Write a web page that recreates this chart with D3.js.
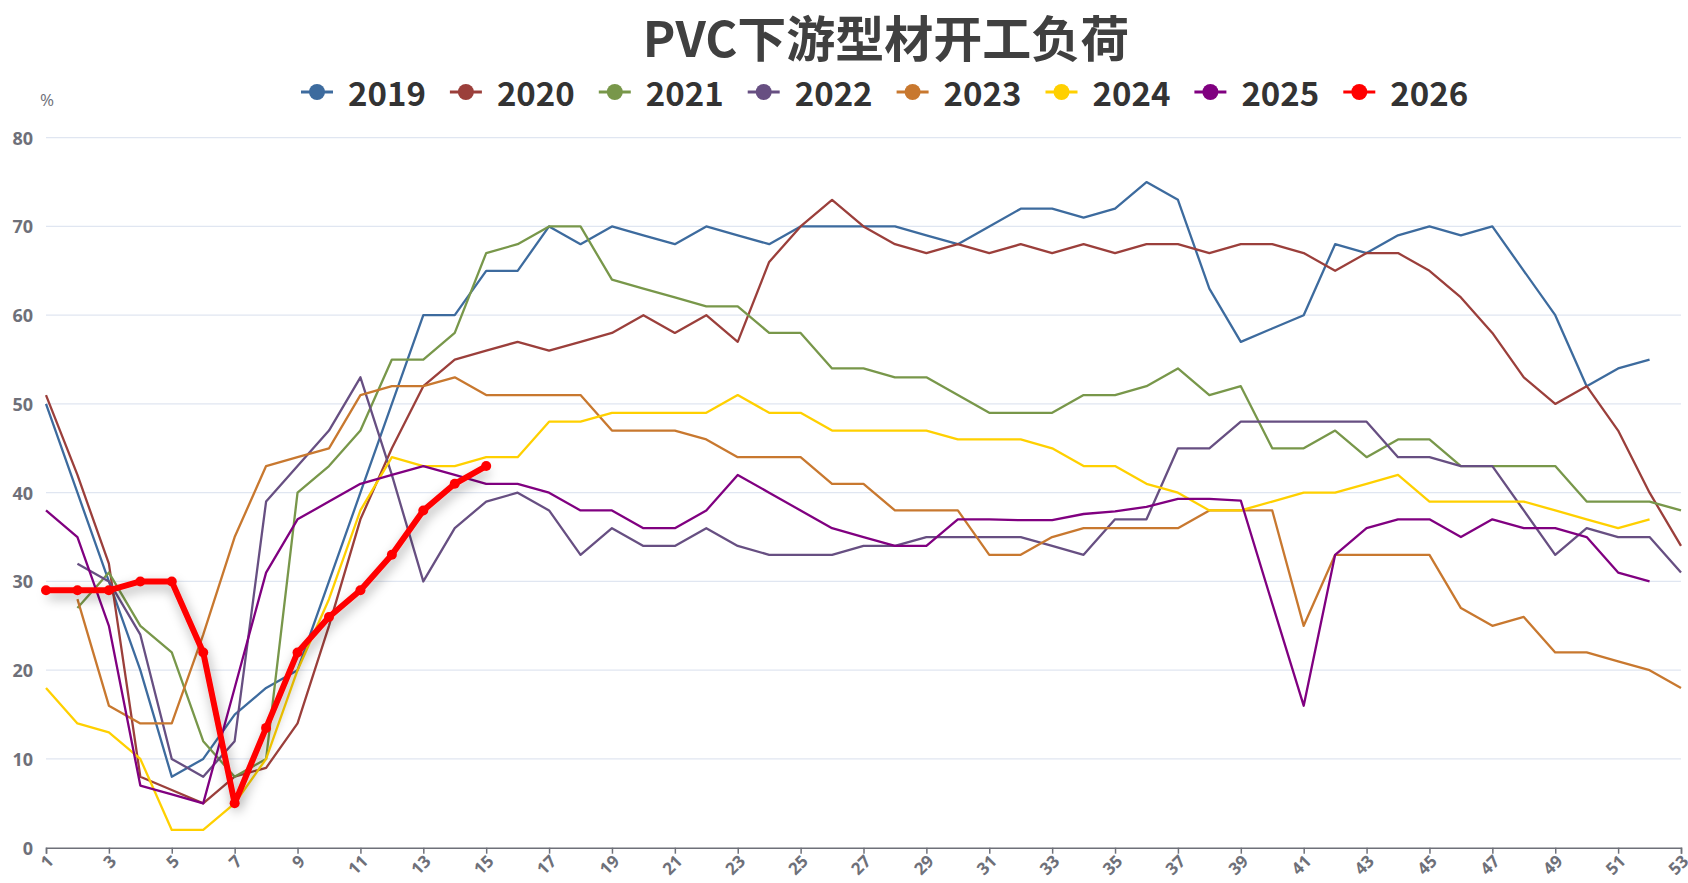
<!DOCTYPE html>
<html>
<head>
<meta charset="utf-8">
<script src="https://cdn.jsdelivr.net/npm/d3@7/dist/d3.min.js"></script>
<style>
  html, body { margin: 0; padding: 0; background: #fff; }
  svg { display: block; }
</style>
</head>
<body>
<div id="chart"></div>
<script>
// weeks on the x axis
const weeks = d3.range(1, 54);
const xTicks = d3.range(1, 54, 2);
const yTicks = [0, 10, 20, 30, 40, 50, 60, 70, 80];

const years = ["2019", "2020", "2021", "2022", "2023", "2024", "2025", "2026"];
const colors = ["#3d6b9e", "#9b3f3b", "#78974a", "#674f82", "#c8782f", "#ffd000", "#800080", "#ff0000"];

// weekly load (%), null = no data
const s2019 = [50, 40, 30, 20, 8, 10, 15, 18, 20, 30, 40, 50, 60, 60, 65, 65, 70, 68, 70, 69, 68, 70, 69, 68, 70, 70, 70, 70, 69, 68, 70, 72, 72, 71, 72, 75, 73, 63, 57, 58.5, 60, 68, 67, 69, 70, 69, 70, 65, 60, 52, 54, 55, null];
const s2020 = [51, 42, 32, 8, 6.5, 5, 8, 9, 14, 25, 37, 45, 52, 55, 56, 57, 56, 57, 58, 60, 58, 60, 57, 66, 70, 73, 70, 68, 67, 68, 67, 68, 67, 68, 67, 68, 68, 67, 68, 68, 67, 65, 67, 67, 65, 62, 58, 53, 50, 52, 47, 40, 34];
const s2021 = [null, 27, 31, 25, 22, 12, 8, 10, 40, 43, 47, 55, 55, 58, 67, 68, 70, 70, 64, 63, 62, 61, 61, 58, 58, 54, 54, 53, 53, 51, 49, 49, 49, 51, 51, 52, 54, 51, 52, 45, 45, 47, 44, 46, 46, 43, 43, 43, 43, 39, 39, 39, 38];
const s2022 = [null, 32, 30, 24, 10, 8, 12, 39, 43, 47, 53, 42, 30, 36, 39, 40, 38, 33, 36, 34, 34, 36, 34, 33, 33, 33, 34, 34, 35, 35, 35, 35, 34, 33, 37, 37, 45, 45, 48, 48, 48, 48, 48, 44, 44, 43, 43, 38, 33, 36, 35, 35, 31];
const s2023 = [null, 28, 16, 14, 14, 24, 35, 43, 44, 45, 51, 52, 52, 53, 51, 51, 51, 51, 47, 47, 47, 46, 44, 44, 44, 41, 41, 38, 38, 38, 33, 33, 35, 36, 36, 36, 36, 38, 38, 38, 25, 33, 33, 33, 33, 27, 25, 26, 22, 22, 21, 20, 18];
const s2024 = [18, 14, 13, 10, 2, 2, 5, 10, 20, 28, 38, 44, 43, 43, 44, 44, 48, 48, 49, 49, 49, 49, 51, 49, 49, 47, 47, 47, 47, 46, 46, 46, 45, 43, 43, 41, 40, 38, 38, 39, 40, 40, 41, 42, 39, 39, 39, 39, 38, 37, 36, 37, null];
const s2025 = [38, 35, 25, 7, 6, 5, 18, 31, 37, 39, 41, 42, 43, 42, 41, 41, 40, 38, 38, 36, 36, 38, 42, 40, 38, 36, 35, 34, 34, 37, 37, 36.9, 36.9, 37.6, 37.9, 38.4, 39.3, 39.3, 39.1, 27.5, 16, 33, 36, 37, 37, 35, 37, 36, 36, 35, 31, 30, null];
const s2026 = [29, 29, 29, 30, 30, 22, 5, 13.5, 22, 26, 29, 33, 38, 41, 43];

const seriesValues = [s2019, s2020, s2021, s2022, s2023, s2024, s2025, s2026];

const width = 1688, height = 883;
const margin = { top: 137.7, right: 7, bottom: 35.3, left: 46 };

const svg = d3.select("#chart")
    .append("svg")
    .attr("width", width)
    .attr("height", height);

// shadow for the highlighted line
const defs = svg.append("defs");
defs.append("filter")
    .attr("id", "glow")
    .attr("x", "-20%").attr("y", "-20%")
    .attr("width", "140%").attr("height", "140%")
    .append("feDropShadow")
    .attr("dx", 2).attr("dy", 5)
    .attr("stdDeviation", 6)
    .attr("flood-color", "#000")
    .attr("flood-opacity", 0.35);

const x = d3.scaleLinear()
    .domain([1, 53])
    .range([margin.left, width - margin.right]);

const y = d3.scaleLinear()
    .domain([0, 80])
    .range([height - margin.bottom, margin.top]);

// title
svg.append("text")
    .attr("x", 886)
    .attr("y", 35)
    .attr("text-anchor", "middle")
    .attr("dominant-baseline", "central")
    .attr("font-family", "'Noto Sans CJK SC', 'Noto Sans', sans-serif")
    .attr("font-weight", "bold")
    .attr("font-size", 49)
    .attr("fill", "#404040")
    .text("PVC下游型材开工负荷");

// legend
const legend = svg.append("g");
const legendX = d3.scaleLinear().domain([0, 1]).range([301, 301 + 148.9]);
years.forEach((yr, i) => {
    const g = legend.append("g")
        .attr("transform", `translate(${legendX(i)},92)`);
    g.append("line")
        .attr("x1", 0).attr("x2", 32)
        .attr("stroke", colors[i])
        .attr("stroke-width", 3);
    g.append("circle")
        .attr("cx", 16).attr("r", 8)
        .attr("fill", colors[i]);
    g.append("text")
        .attr("x", 47)
        .attr("dominant-baseline", "central")
        .attr("font-family", "'Noto Sans CJK SC', 'Noto Sans', sans-serif")
        .attr("font-weight", "bold")
        .attr("font-size", 33)
        .attr("fill", "#333")
        .text(yr);
});

// y grid + labels
svg.append("g")
    .selectAll("line")
    .data(yTicks.filter(d => d > 0))
    .join("line")
    .attr("x1", x(1))
    .attr("x2", x(53))
    .attr("y1", d => y(d))
    .attr("y2", d => y(d))
    .attr("stroke", "#e0e6f1")
    .attr("stroke-width", 1.2);

svg.append("g")
    .selectAll("text")
    .data(yTicks)
    .join("text")
    .attr("x", 33)
    .attr("y", d => y(d))
    .attr("text-anchor", "end")
    .attr("dominant-baseline", "central")
    .attr("font-family", "'Open Sans', sans-serif")
    .attr("font-weight", "bold")
    .attr("font-size", 18)
    .attr("fill", "#6e7079")
    .text(d => d);

svg.append("text")
    .attr("x", 47)
    .attr("y", 106)
    .attr("text-anchor", "middle")
    .attr("font-family", "'Open Sans', sans-serif")
    .attr("font-size", 17)
    .attr("fill", "#6e7079")
    .text("%");

// x axis
const xAxis = svg.append("g")
    .attr("transform", `translate(0,${y(0)})`)
    .call(d3.axisBottom(x).tickValues(xTicks).tickSize(6).tickFormat(""));
xAxis.select(".domain").attr("stroke", "#6e7079").attr("stroke-width", 1.5);
xAxis.selectAll(".tick line").attr("stroke", "#6e7079").attr("stroke-width", 1.5);

svg.append("g")
    .selectAll("text")
    .data(xTicks)
    .join("text")
    .attr("transform", d => `translate(${x(d) + 4},${y(0) + 10}) rotate(-45)`)
    .attr("text-anchor", "end")
    .attr("dominant-baseline", "central")
    .attr("font-family", "'Open Sans', sans-serif")
    .attr("font-weight", "bold")
    .attr("font-size", 17)
    .attr("fill", "#6e7079")
    .text(d => d);

// lines
const line = d3.line()
    .defined(d => d.v !== null)
    .x(d => x(d.w))
    .y(d => y(d.v));

const series = years.map((yr, i) => ({
    year: yr,
    color: colors[i],
    points: seriesValues[i].map((v, j) => ({ w: weeks[j], v: v }))
}));

const plot = svg.append("g");
series.forEach((s, i) => {
    const last = i === series.length - 1;
    plot.append("path")
        .datum(s.points)
        .attr("fill", "none")
        .attr("stroke", s.color)
        .attr("stroke-width", last ? 6 : 2.3)
        .attr("stroke-linejoin", "round")
        .attr("filter", last ? "url(#glow)" : null)
        .attr("d", line);
    if (last) {
        plot.append("g")
            .selectAll("circle")
            .data(s.points.filter(d => d.v !== null))
            .join("circle")
            .attr("cx", d => x(d.w))
            .attr("cy", d => y(d.v))
            .attr("r", 5)
            .attr("fill", s.color);
    }
});
</script>
</body>
</html>
